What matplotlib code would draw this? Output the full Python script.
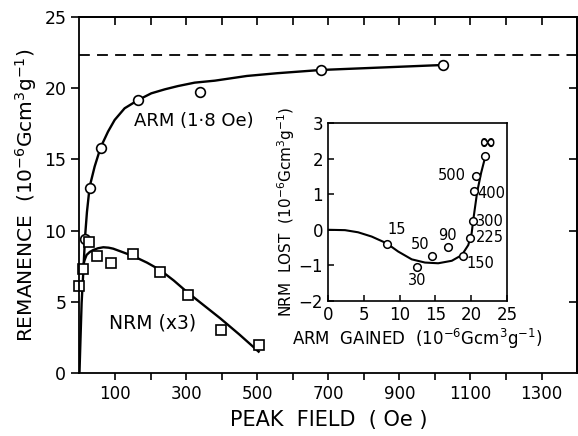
import matplotlib
matplotlib.use("Agg")
import matplotlib.pyplot as plt

plt.rcParams['font.family'] = ['DejaVu Sans']
plt.rcParams['mathtext.default'] = 'regular'

# ARM data points (peak field Oe, remanence)
arm_field = [15, 30, 60, 166, 339, 679, 1022]
arm_value = [9.4, 13.0, 15.8, 19.2, 19.7, 21.3, 21.6]
# ARM fitted curve, traced
arm_curve_x = [0, 3, 6, 11, 15.5, 21, 28.6, 42.7, 59.6, 80.3, 99, 127, 165, 202, 240,
               277, 324, 381, 471, 555, 679, 1022]
arm_curve_y = [0, 2.5, 4.9, 7.2, 9.5, 11.3, 13.08, 14.5, 15.85, 16.95, 17.77, 18.59, 19.17,
               19.64, 19.92, 20.15, 20.39, 20.53, 20.86, 21.05, 21.28, 21.63]
arm_sat = 22.3

# NRM (x3) data points
nrm_field = [0, 10, 27, 48, 89, 150, 227, 306, 398, 505]
nrm_value = [6.1, 7.3, 9.2, 8.2, 7.7, 8.35, 7.1, 5.5, 3.0, 2.0]
nrm_curve_x = [9, 14, 20, 29, 39, 52, 67, 82, 95, 120, 152, 190, 227, 265, 302, 350, 396, 450, 504]
nrm_curve_y = [7.35, 7.9, 8.29, 8.5, 8.64, 8.76, 8.83, 8.8, 8.73, 8.5, 8.2, 7.75, 7.23, 6.5,
               5.7, 4.75, 3.84, 2.7, 1.5]

# inset: ARM gained vs NRM lost
ins_x = [8.2, 12.5, 14.5, 16.8, 18.8, 19.9, 20.2, 20.4, 20.7, 22.0]
ins_y = [-0.40, -1.04, -0.73, -0.48, -0.73, -0.23, 0.25, 1.08, 1.51, 2.07]
ins_lab = ['15', '30', '50', '90', '150', '225', '300', '400', '500']
ins_lab_x = [9.6, 12.4, 12.85, 16.7, 21.3, 22.6, 22.6, 22.8, 17.3]
ins_lab_y = [0.02, -1.43, -0.40, -0.17, -0.94, -0.22, 0.23, 1.02, 1.52]
ins_curve_x = [0, 2.37, 4.2, 6.1, 8.2, 9.8, 11.7, 13.55, 15.4, 17.3, 18.7, 19.6, 20.07,
               20.3, 20.85, 21.4, 22.0]
ins_curve_y = [0, -0.01, -0.07, -0.19, -0.38, -0.61, -0.83, -0.92, -0.94, -0.87, -0.71,
               -0.43, -0.1, 0.28, 1.07, 1.6, 2.07]

unit = r'(10$^{-6}$Gcm$^{3}$g$^{-1}$)'

fig = plt.figure(figsize=(5.78, 4.36), dpi=100)
ax = fig.add_axes([0.1375, 0.1445, 0.861, 0.8165])

ax.axhline(arm_sat, color='black', lw=1.3, ls=(0, (6, 4)))
ax.plot(arm_curve_x, arm_curve_y, color='black', lw=1.7)
ax.plot(arm_field, arm_value, 'o', ms=7, mfc='white', mec='black', mew=1.2, clip_on=False)
ax.plot(nrm_curve_x, nrm_curve_y, color='black', lw=1.7)
ax.plot(nrm_field, nrm_value, 's', ms=7, mfc='white', mec='black', mew=1.2, clip_on=False)

ax.set_xlim(0, 1400)
ax.set_ylim(0, 25)
ax.set_xticks(range(100, 1400, 200))
ax.set_xticks(range(200, 1400, 200), minor=True)
ax.set_yticks(range(0, 26, 5))
ax.tick_params(axis='x', which='both', direction='out', length=5, width=1.2, labelsize=12)
ax.tick_params(axis='y', direction='out', length=6, width=1.2, labelsize=12.5)
for s in ax.spines.values():
    s.set_linewidth(1.3)

# top and right ticks point inward
top = ax.secondary_xaxis('top')
top.set_xticks(range(100, 1400, 100))
top.tick_params(direction='in', length=6, width=1.2, labeltop=False)
top.spines['top'].set_linewidth(1.3)
right = ax.secondary_yaxis('right')
right.set_yticks(range(5, 25, 5))
right.tick_params(direction='in', length=6, width=1.2, labelright=False)
right.spines['right'].set_linewidth(1.3)

ax.set_xlabel('PEAK  FIELD  ( Oe )', fontsize=15, labelpad=5)
ax.set_ylabel('REMANENCE  ' + unit, fontsize=14.5, labelpad=4)
ax.text(322, 17.7, 'ARM (1·8 Oe)', fontsize=13, ha='center', va='center')
ax.text(207, 3.5, 'NRM (x3)', fontsize=13.5, ha='center', va='center')

# inset
ins = fig.add_axes([0.5675, 0.3096, 0.3095, 0.4084])
ins.plot(ins_curve_x, ins_curve_y, color='black', lw=1.5)
ins.plot(ins_x, ins_y, 'o', ms=5.5, mfc='white', mec='black', mew=1.1)
for lab, lx, ly in zip(ins_lab, ins_lab_x, ins_lab_y):
    ins.text(lx, ly, lab, fontsize=10.5, ha='center', va='center')
ins.text(22.2, 2.43, '∞', fontsize=15, ha='center', va='center', fontweight='bold')
ins.set_xlim(0, 25)
ins.set_ylim(-2, 3)
ins.set_xticks(range(0, 26, 5))
ins.set_yticks(range(-2, 4))
ins.tick_params(direction='in', length=4, width=1.1, labelsize=12)
for s in ins.spines.values():
    s.set_linewidth(1.2)
ins.set_xlabel('ARM  GAINED  ' + unit, fontsize=12, labelpad=2)
ins.set_ylabel('NRM  LOST  ' + unit, fontsize=11, labelpad=1)

fig.savefig('out.png', dpi=100)
